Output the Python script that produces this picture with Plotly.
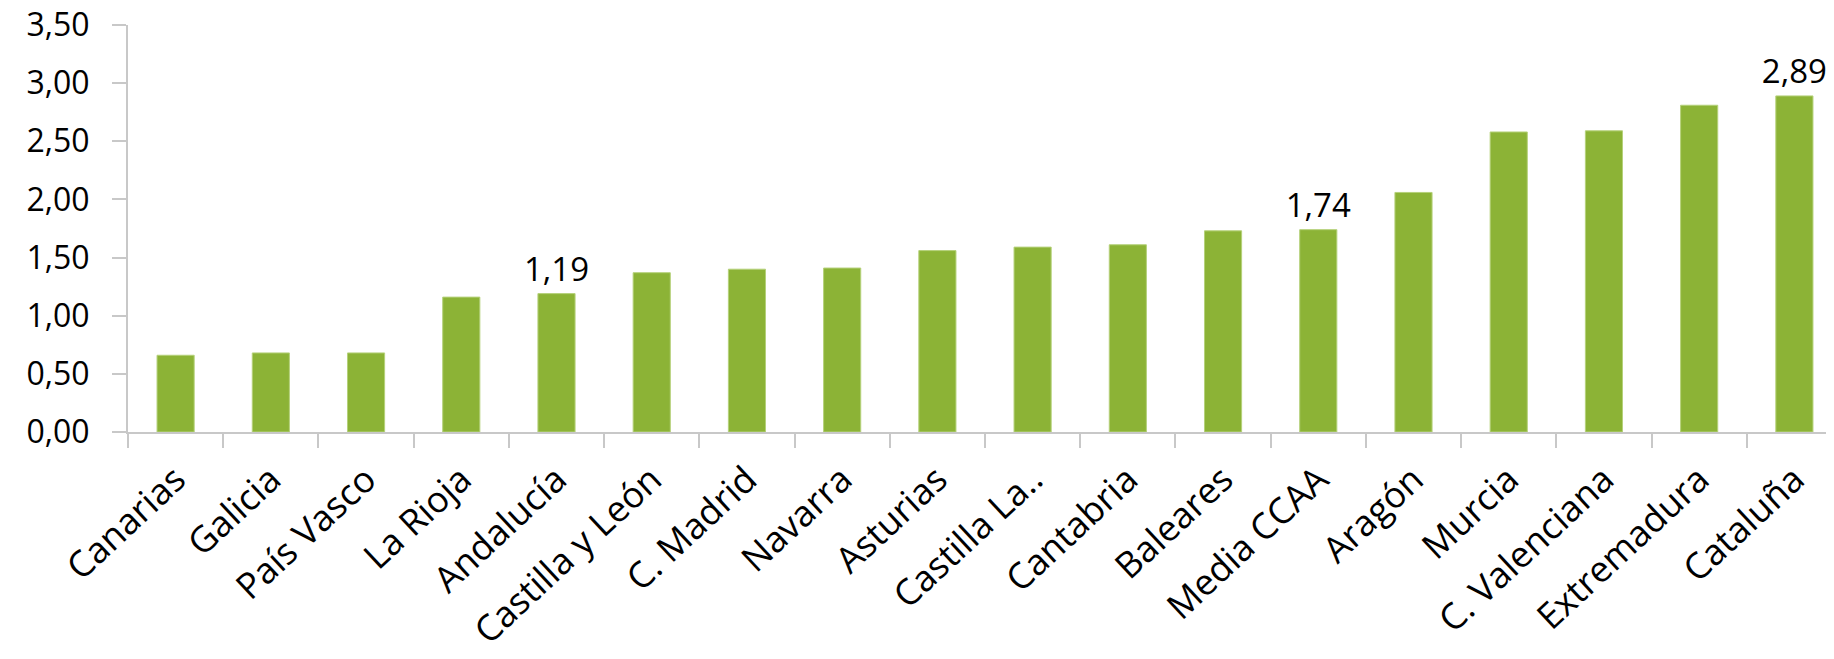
import plotly.graph_objects as go

regions = [
    "Canarias", "Galicia", "País Vasco", "La Rioja", "Andalucía",
    "Castilla y León", "C. Madrid", "Navarra", "Asturias", "Castilla La..",
    "Cantabria", "Baleares", "Media CCAA", "Aragón", "Murcia",
    "C. Valenciana", "Extremadura", "Cataluña",
]
values = [
    0.66, 0.68, 0.68, 1.16, 1.19,
    1.37, 1.40, 1.41, 1.56, 1.59,
    1.61, 1.73, 1.74, 2.06, 2.58,
    2.59, 2.81, 2.89,
]
# only a few bars carry a value label in the original
labelled = ["Andalucía", "Media CCAA", "Cataluña"]
y_ticks = [0, 0.5, 1.0, 1.5, 2.0, 2.5, 3.0, 3.5]

_GREEN = "#8cb336"
_AXIS = "#c8c8c8"
_FONT = "Open Sans, Lato, sans-serif"

texts = [f"{v:.2f}".replace(".", ",") if r in labelled else ""
         for r, v in zip(regions, values)]

fig = go.Figure(
    go.Bar(
        x=regions,
        y=values,
        marker=dict(color=_GREEN, line=dict(color="#b5d17a", width=1)),
        text=texts,
        textposition="outside",
        constraintext="none",
        textfont=dict(size=33, color="black", family=_FONT),
        cliponaxis=False,
    )
)

# the page body adds an 8px offset, so margins are trimmed to compensate
fig.update_layout(
    width=1834,
    height=659,
    margin=dict(l=120, r=0, t=17, b=235),
    plot_bgcolor="white",
    paper_bgcolor="white",
    bargap=0.61,
    separators=", ",
    showlegend=False,
    font=dict(family=_FONT, color="black"),
)
fig.update_yaxes(
    range=[0, 3.5],
    tickvals=y_ticks,
    tickformat=".2f",
    showgrid=False,
    zeroline=False,
    showline=True,
    linecolor=_AXIS,
    linewidth=2,
    ticks="outside",
    ticklen=14,
    tickcolor=_AXIS,
    tickwidth=2,
    tickfont=dict(size=32),
    ticklabelstandoff=16,
    ticklabeloverflow="allow",
    automargin=False,
)
fig.update_xaxes(
    showgrid=False,
    showline=True,
    linecolor=_AXIS,
    linewidth=2,
    ticks="outside",
    tickson="boundaries",
    ticklen=14,
    tickcolor=_AXIS,
    tickwidth=2,
    tickangle=-43,
    tickfont=dict(size=36),
    ticklabelstandoff=10,
    ticklabeloverflow="allow",
    automargin=False,
)

fig.write_html("out.html")
